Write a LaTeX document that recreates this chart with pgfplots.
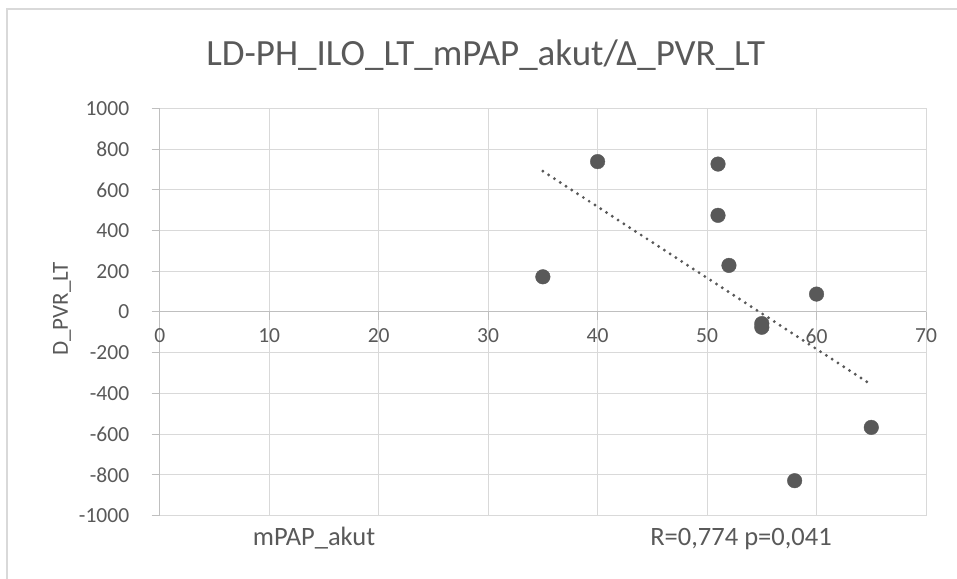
\documentclass[border=0pt]{standalone}
\usepackage{pgfplots}
\pgfplotsset{compat=1.18}
\usepackage{fontspec}
\setmainfont{Carlito}
\definecolor{txt}{HTML}{595959}
\definecolor{grd}{HTML}{D9D9D9}
\definecolor{axl}{HTML}{BFBFBF}
\begin{document}
\begin{tikzpicture}[x=1pt,y=1pt]
\useasboundingbox (0,0) rectangle (957,578);
\draw[grd, line width=1.5pt] (7,-5) rectangle (975,569);
\node[txt, anchor=base, inner sep=0pt, font=\fontsize{37}{43}\selectfont] at (485.7,512) {LD-PH\_ILO\_LT\_mPAP\_akut/Δ\_PVR\_LT};
\begin{axis}[
  at={(159.7pt,62.5pt)}, anchor=south west,
  width=766.3pt, height=407pt, scale only axis,
  xmin=0, xmax=70, ymin=-1000, ymax=1000,
  xtick={0,10,...,70}, ytick={-1000,-800,...,1000},
  axis x line=middle, axis y line=left,
  axis line style={axl, line width=1pt, -},
  hide obscured x ticks=false,
  grid=major, major grid style={grd, line width=1pt},
  tick align=outside, major tick length=8pt,
  tick style={axl, line width=1pt},
  ticklabel style={font=\fontsize{21.5}{25}\selectfont, text=txt},
  /pgf/number format/assume math mode=true,
  /pgf/number format/1000 sep={},
  yticklabel style={xshift=-19pt},
  xticklabel style={yshift=-5pt},
  clip=false,
]
\addplot[txt, line width=3.2pt, dash pattern=on 0pt off 6.9pt, line cap=round] coordinates {(35,692) (65,-357)};
\addplot[only marks, mark=*, mark size=7.3pt, mark options={fill=txt, draw=txt}] coordinates {
(35,173) (40,739) (51,727) (51,475) (52,229) (55,-57) (55,-75) (60,88) (58,-829) (65,-567)
};
\end{axis}
\node[txt, rotate=90, font=\fontsize{23}{27}\selectfont] at (62,269) {D\_PVR\_LT};
\node[txt, anchor=base, inner sep=0pt, font=\fontsize{26.5}{30}\selectfont] at (314,33) {mPAP\_akut};
\node[txt, anchor=base, inner sep=0pt, font=\fontsize{26.5}{30}\selectfont] at (741,33) {R=0,774 p=0,041};
\end{tikzpicture}
\end{document}
